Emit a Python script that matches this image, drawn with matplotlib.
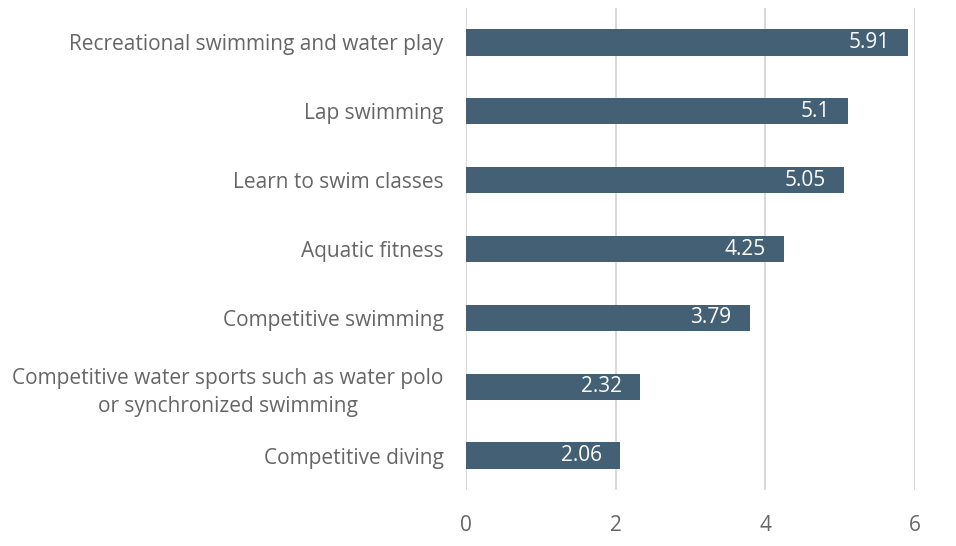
import matplotlib.pyplot as plt

categories = [
    "Competitive diving",
    "Competitive water sports such as water polo\nor synchronized swimming",
    "Competitive swimming",
    "Aquatic fitness",
    "Learn to swim classes",
    "Lap swimming",
    "Recreational swimming and water play",
]
values = [2.06, 2.32, 3.79, 4.25, 5.05, 5.1, 5.91]
value_labels = ["2.06", "2.32", "3.79", "4.25", "5.05", "5.1", "5.91"]
xticks = [0, 2, 4, 6]

plt.rcParams['font.family'] = ['Open Sans', 'DejaVu Sans']

fig = plt.figure(figsize=(9.56, 5.46), dpi=100)
ax = fig.add_axes([0.4874, 0.1026, 0.4697, 0.8827])

bar_color = '#436075'
ypos = list(range(len(categories)))
ax.barh(ypos, values, height=0.38, color=bar_color, zorder=3)

# value labels inside the end of each bar
for y, v, lab in zip(ypos, values, value_labels):
    ax.annotate(lab, (v, y), xytext=(-13, 0), textcoords='offset points',
                ha='right', va='center', color='white', fontsize=15, zorder=4)

ax.set_xlim(0, 6)
ax.set_ylim(-0.5, len(categories) - 0.5)
ax.set_xticks(xticks)
ax.set_xticklabels([str(t) for t in xticks])
ax.set_yticks(ypos)
ax.set_yticklabels(categories, multialignment='center', linespacing=1.45)

ax.tick_params(axis='x', length=0, pad=18, labelsize=15, labelcolor='#666666')
ax.tick_params(axis='y', length=0, pad=16, labelsize=15, labelcolor='#666666')

ax.grid(axis='x', color='#d9d9d9', linewidth=1.5, zorder=0)
for s in ax.spines.values():
    s.set_visible(False)

fig.savefig('out.png', dpi=100)
